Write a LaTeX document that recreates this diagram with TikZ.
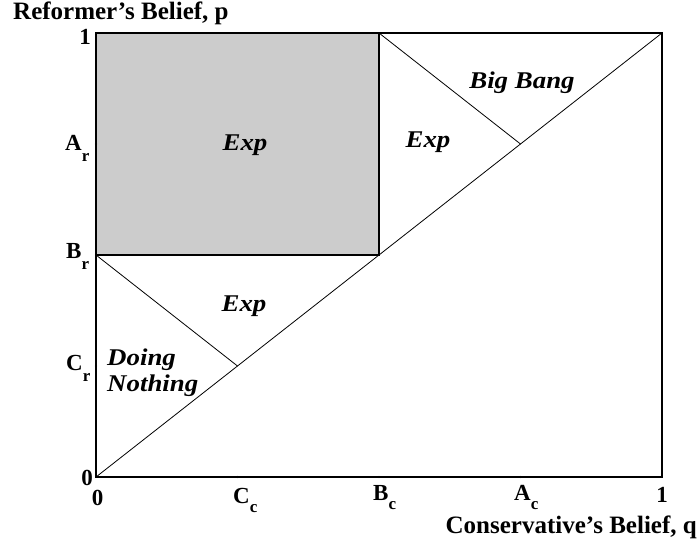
\documentclass[tikz,border=0pt]{standalone}
\usepackage{fontspec}
\setmainfont{Liberation Serif}
\definecolor{regiongray}{HTML}{CCCCCC}
\begin{document}
\begin{tikzpicture}[x=1pt,y=-1pt,
  frame/.style={line width=1.6pt},
  thinline/.style={line width=0.8pt},
  tickdot/.style={circle,fill=black,inner sep=0pt,minimum size=2.4pt},
  ticklab/.style={font=\fontsize{23}{23}\selectfont\bfseries,inner sep=0pt},
  axislab/.style={font=\fontsize{25}{25}\selectfont\bfseries,inner sep=0pt},
  regionlab/.style={font=\fontsize{24}{24}\selectfont\bfseries\itshape,inner sep=0pt,xscale=1.12,transform shape}
]
\newcommand{\subr}[2][-11pt]{\raisebox{#1}{\fontsize{17}{17}\selectfont #2}}
\useasboundingbox (0,0) rectangle (699,544);
% corners and key points
\coordinate (O) at (96,477);
\coordinate (Q1) at (662,477);
\coordinate (P1) at (96,33);
\coordinate (TR) at (662,33);
\coordinate (Br) at (96,255);
\coordinate (Bc) at (379,477);
\coordinate (BB) at (379,255);
\coordinate (BcTop) at (379,33);
\coordinate (AA) at (520.5,144);
\coordinate (CC) at (237.5,366);
\coordinate (Ar) at (96,144);
\coordinate (Cr) at (96,366);
\coordinate (Cc) at (237.5,477);
\coordinate (Ac) at (520.5,477);
% gray region
\fill[regiongray] (Br) rectangle (BcTop);
\draw[frame] (Br) -- (BB) -- (BcTop);
% lines
\draw[thinline] (O) -- (TR);
\draw[thinline] (BcTop) -- (AA);
\draw[thinline] (Br) -- (CC);
% frame
\draw[frame] (O) rectangle (TR);
% tick dots
\foreach \c in {Ar,Br,Cr,Cc,Bc,Ac} \node[tickdot] at (\c) {};
% tick labels
\node[ticklab,anchor=east] (l1) at (91,37) {1};
\node[ticklab,anchor=base west] (lAr) at (65,150) {A\subr{r}};
\node[ticklab,anchor=base west] (lBr) at (66,258) {B\subr{r}};
\node[ticklab,anchor=base west] (lCr) at (66,370) {C\subr{r}};
\node[ticklab] (l0a) at (87,478) {0};
\node[ticklab] (l0b) at (97.5,498) {0};
\node[ticklab,anchor=base west] (lCc) at (233,503) {C\subr[-9pt]{c}};
\node[ticklab,anchor=base west] (lBc) at (373,500) {B\subr[-9pt]{c}};
\node[ticklab,anchor=base west] (lAc) at (514,500) {A\subr[-9pt]{c}};
\node[ticklab] (lq1) at (662,495) {1};
% axis labels
\node[axislab,anchor=base east] (xlab) at (697,533) {Conservative’s Belief, q};
\node[axislab,anchor=base west] (ylab) at (13,19) {Reformer’s Belief, p};
% region labels
\node[regionlab,anchor=base] (bigbang) at (522,88) {Big Bang};
\node[regionlab,anchor=base] (exp1) at (428,147) {Exp};
\node[regionlab,anchor=base] (exp2) at (245,150) {Exp};
\node[regionlab,anchor=base] (exp3) at (244,311) {Exp};
\node[regionlab,anchor=base west] (doing) at (107,365) {Doing};
\node[regionlab,anchor=base west] (nothing) at (107,391) {Nothing};
\end{tikzpicture}
\end{document}
